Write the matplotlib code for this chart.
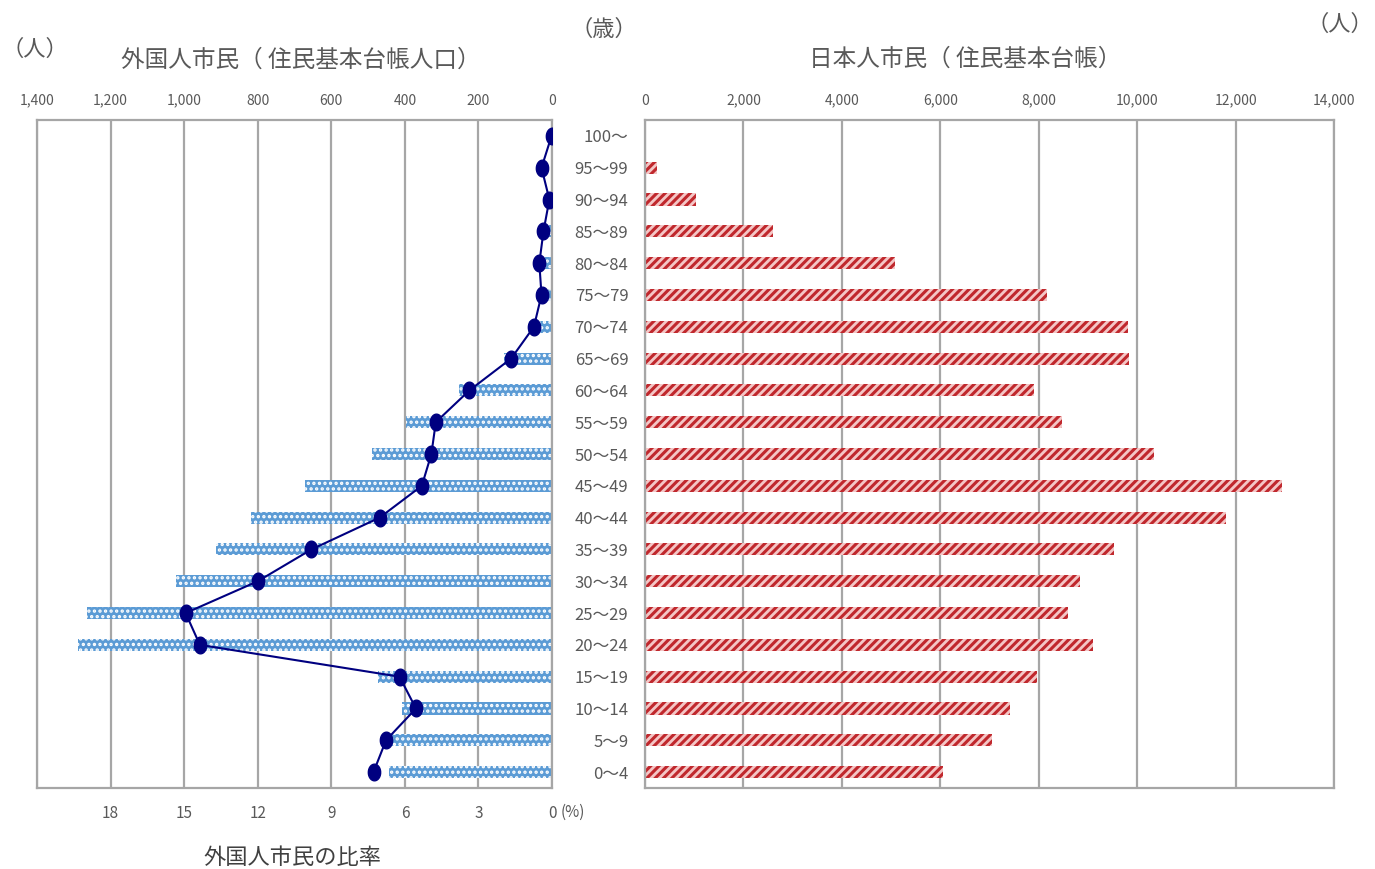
import matplotlib
matplotlib.use("Agg")
import matplotlib.pyplot as plt
import numpy as np
from matplotlib.path import Path

plt.rcParams['font.family'] = ['Noto Sans CJK JP', 'DejaVu Sans']

# age groups, youngest first
ages = ["0～4", "5～9", "10～14", "15～19", "20～24", "25～29", "30～34",
        "35～39", "40～44", "45～49", "50～54", "55～59", "60～64", "65～69",
        "70～74", "75～79", "80～84", "85～89", "90～94", "95～99", "100～"]
# foreign residents (persons)
foreign = [442, 440, 407, 472, 1288, 1265, 1022, 913, 818, 671, 490, 397,
           253, 131, 66, 12, 19, 7, 2, 4, 0]
# ratio of foreign residents (%)
ratio = [7.28, 6.77, 5.55, 6.22, 14.36, 14.94, 12.0, 9.81, 7.03, 5.31, 4.92,
         4.74, 3.37, 1.67, 0.74, 0.43, 0.52, 0.35, 0.11, 0.43, 0.02]
# japanese residents (persons)
japanese = [6050, 7045, 7417, 7960, 9110, 8602, 8840, 9533, 11800, 12945,
            10350, 8467, 7905, 9835, 9809, 8171, 5081, 2602, 1037, 244, 20]

left_ticks = [1400, 1200, 1000, 800, 600, 400, 200, 0]
pct_ticks = [18, 15, 12, 9, 6, 3, 0]
right_ticks = [0, 2000, 4000, 6000, 8000, 10000, 12000, 14000]

grid_c = '#A6A6A6'
txt_c = '#595959'
y = np.arange(len(ages))

fig = plt.figure(figsize=(13.75, 8.69), dpi=100)
ax = fig.add_axes([0.0269, 0.0932, 0.3746, 0.7687])
axr = fig.add_axes([0.4691, 0.0932, 0.5011, 0.7687])
ax2 = ax.twiny()

# left: foreign residents bars
plt.rcParams['hatch.linewidth'] = 1.6
ax.barh(y, foreign, height=0.38, color='#5B9BD5', edgecolor='white',
        hatch='...', linewidth=0, zorder=2)
ax.set_xlim(1400, 0)
ax.set_ylim(-0.5, len(ages) - 0.5)
ax.xaxis.tick_top()
ax.set_xticks(left_ticks)
ax.set_xticklabels(['{:,}'.format(v) for v in left_ticks])
ax.tick_params(axis='x', length=0, pad=9, labelsize=10, labelcolor=txt_c)
ax.set_yticks([])
ax.grid(axis='x', color=grid_c, linewidth=1.6, zorder=0)
ax.set_axisbelow(True)
for s in ax.spines.values():
    s.set_color(grid_c)
    s.set_linewidth(1.6)

# ratio line on a secondary axis at the bottom
t = np.linspace(0, 2 * np.pi, 40)
ellipse = Path(np.column_stack([0.74 * np.cos(t), np.sin(t)]))
ax2.plot(ratio, y, color='#000080', linewidth=1.5, marker=ellipse,
         markersize=12, zorder=3)
ax2.set_xlim(21, 0)
ax2.xaxis.tick_bottom()
ax2.set_xticks(pct_ticks)
ax2.set_xticklabels([str(v) for v in pct_ticks])
ax2.tick_params(axis='x', length=0, pad=12, labelsize=11, labelcolor=txt_c)
ax2.set_ylim(-0.5, len(ages) - 0.5)
for s in ax2.spines.values():
    s.set_visible(False)
fig.text(0.4075, 0.065, '(%)', fontsize=11, color=txt_c, va='center', ha='left')

# right: japanese residents bars
plt.rcParams['hatch.linewidth'] = 2.2
axr.barh(y, japanese, height=0.38, color='#F4C6C6', edgecolor='#C0282D',
         hatch='////', linewidth=0, zorder=2)
axr.set_xlim(0, 14000)
axr.set_ylim(-0.5, len(ages) - 0.5)
axr.xaxis.tick_top()
axr.set_xticks(right_ticks)
axr.set_xticklabels(['{:,}'.format(v) for v in right_ticks])
axr.tick_params(axis='x', length=0, pad=9, labelsize=10, labelcolor=txt_c)
axr.set_yticks(y)
axr.set_yticklabels(ages)
axr.tick_params(axis='y', length=0, pad=12, labelsize=12, labelcolor=txt_c)
axr.grid(axis='x', color=grid_c, linewidth=1.6, zorder=0)
axr.set_axisbelow(True)
for s in axr.spines.values():
    s.set_color(grid_c)
    s.set_linewidth(1.6)

# titles and units
fig.text(0.219, 0.931, '外国人市民（ 住民基本台帳人口）', fontsize=17, color=txt_c,
         ha='center', va='center')
fig.text(0.702, 0.932, '日本人市民（ 住民基本台帳）', fontsize=17, color=txt_c,
         ha='center', va='center')
fig.text(0.001, 0.943, '（人）', fontsize=16, color=txt_c, ha='left', va='center')
fig.text(0.439, 0.966, '（歳）', fontsize=16, color=txt_c, ha='center', va='center')
fig.text(0.999, 0.972, '（人）', fontsize=16, color=txt_c, ha='right', va='center')
fig.text(0.213, 0.013, '外国人市民の比率', fontsize=16, color='#404040',
         ha='center', va='center')

fig.savefig('out.png', dpi=100)
